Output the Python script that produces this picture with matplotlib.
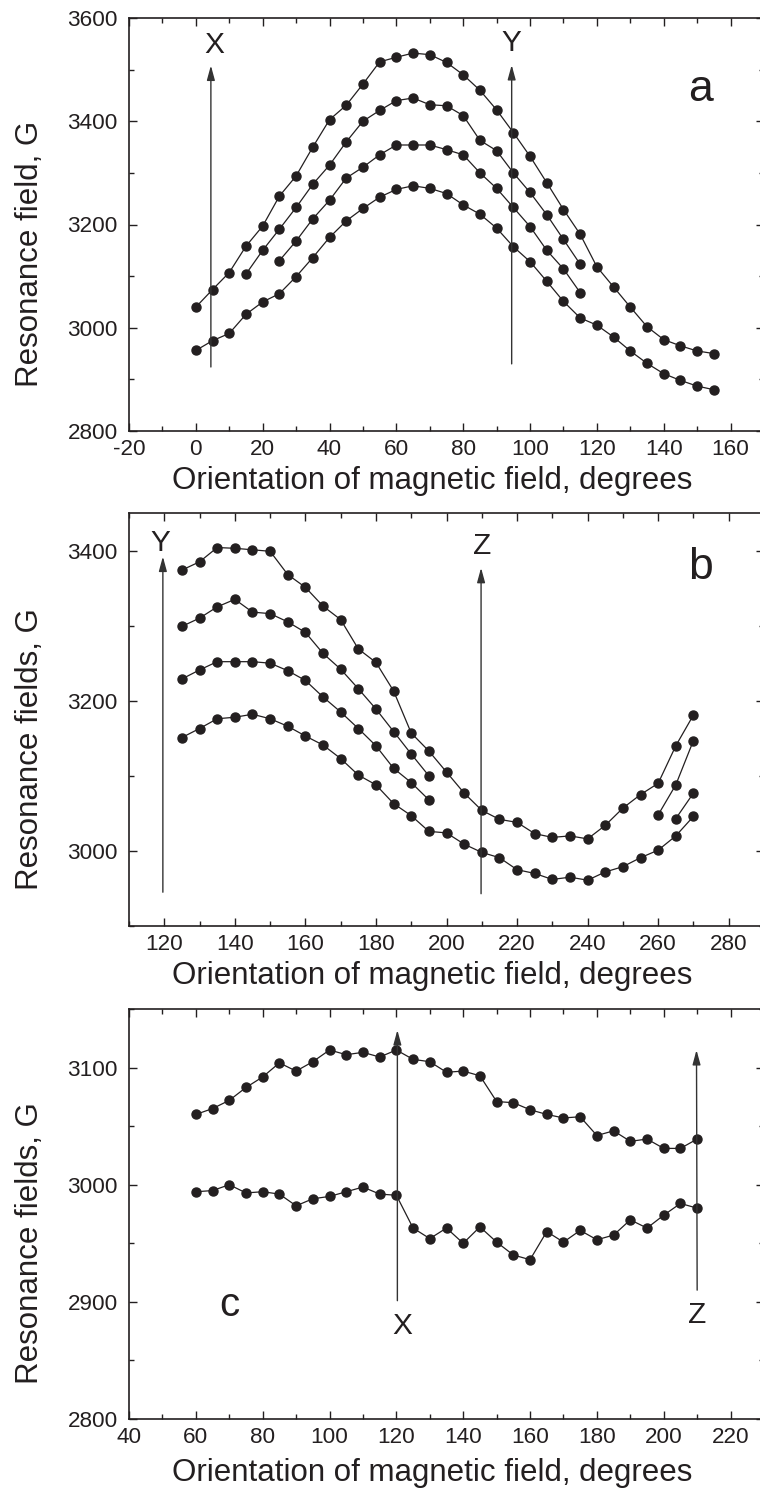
import matplotlib
matplotlib.use('Agg')
import matplotlib.pyplot as plt
from matplotlib.ticker import MultipleLocator

plt.rcParams['font.family'] = ['Liberation Sans', 'DejaVu Sans']
plt.rcParams['axes.unicode_minus'] = False

INK = '#231f20'

# ---- panel a ----
a_ang = [0, 5, 10, 15, 20, 25, 30, 35, 40, 45, 50, 55, 60, 65, 70, 75,
         80, 85, 90, 95, 100, 105, 110, 115, 120, 125, 130, 135, 140, 145, 150, 155]
a_top = [3040, 3074, 3107, 3158, 3197, 3255, 3294, 3350, 3403, 3431, 3472, 3515,
         3524, 3532, 3529, 3514, 3490, 3460, 3422, 3378, 3332, 3281, 3229, 3181,
         3118, 3079, 3040, 3002, 2977, 2965, 2955, 2950]
a_bot = [2956, 2975, 2989, 3026, 3050, 3066, 3099, 3136, 3175, 3207, 3231, 3253,
         3268, 3275, 3270, 3260, 3238, 3220, 3193, 3157, 3128, 3090, 3051, 3019,
         3005, 2982, 2955, 2931, 2911, 2898, 2887, 2880]
a_ang2 = [15, 20, 25, 30, 35, 40, 45, 50, 55, 60, 65, 70, 75, 80, 85, 90, 95,
          100, 105, 110, 115]
a_mid1 = [3104, 3150, 3191, 3233, 3278, 3315, 3360, 3400, 3421, 3440, 3445, 3432,
          3430, 3411, 3363, 3343, 3300, 3262, 3219, 3171, 3123]
a_ang3 = [25, 30, 35, 40, 45, 50, 55, 60, 65, 70, 75, 80, 85, 90, 95, 100, 105,
          110, 115]
a_mid2 = [3130, 3168, 3211, 3247, 3290, 3311, 3335, 3354, 3354, 3354, 3345, 3335,
          3300, 3270, 3233, 3196, 3150, 3114, 3068]

# ---- panel b ----
b_ang = [125, 130, 135, 140, 145, 150, 155, 160, 165, 170, 175, 180, 185, 190, 195,
         200, 205, 210, 215, 220, 225, 230, 235, 240, 245, 250, 255, 260, 265, 270]
b_top = [3374, 3385, 3404, 3403, 3401, 3399, 3368, 3351, 3326, 3308, 3269, 3251,
         3213, 3157, 3133, 3105, 3077, 3054, 3042, 3038, 3023, 3018, 3020, 3016,
         3034, 3057, 3075, 3090, 3140, 3181]
b_bot = [3151, 3163, 3176, 3178, 3182, 3176, 3166, 3153, 3141, 3123, 3101, 3088,
         3063, 3047, 3026, 3024, 3009, 2998, 2991, 2975, 2970, 2962, 2965, 2961,
         2972, 2979, 2991, 3001, 3020, 3046]
b_ang_short = [125, 130, 135, 140, 145, 150, 155, 160, 165, 170, 175, 180, 185, 190, 195]
b_mid1 = [3299, 3310, 3325, 3335, 3318, 3316, 3305, 3291, 3263, 3242, 3216, 3189,
          3159, 3129, 3100]
b_mid2 = [3229, 3241, 3252, 3252, 3252, 3250, 3240, 3227, 3205, 3185, 3163, 3140,
          3110, 3091, 3068]
b_ang5 = [260, 265, 270]
b_tail1 = [3048, 3088, 3147]
b_ang6 = [265, 270]
b_tail2 = [3043, 3077]

# ---- panel c ----
c_ang = [60, 65, 70, 75, 80, 85, 90, 95, 100, 105, 110, 115, 120, 125, 130, 135,
         140, 145, 150, 155, 160, 165, 170, 175, 180, 185, 190, 195, 200, 205, 210]
c_top = [3060, 3065, 3072, 3083, 3092, 3104, 3097, 3105, 3115, 3111, 3113, 3109,
         3115, 3107, 3105, 3096, 3097, 3093, 3071, 3070, 3064, 3060, 3057, 3058,
         3042, 3046, 3037, 3039, 3031, 3031, 3039]
c_bot = [2994, 2995, 3000, 2993, 2994, 2992, 2982, 2988, 2990, 2994, 2998, 2992,
         2991, 2963, 2954, 2963, 2950, 2964, 2951, 2940, 2936, 2960, 2951, 2961,
         2953, 2957, 2970, 2963, 2974, 2984, 2980]

W, H = 760, 1506
fig = plt.figure(figsize=(W / 100, H / 100), dpi=100)


def make_axes(top_px, bot_px):
    # right spine sits just past the picture edge, as in the original
    left, right = 129, 764
    return fig.add_axes([left / W, 1 - bot_px / H, (right - left) / W, (bot_px - top_px) / H])


def style(ax, xlim, ylim, xmaj, ymaj, ylabel, xlab_y):
    ax.set_xlim(*xlim)
    ax.set_ylim(*ylim)
    ax.xaxis.set_major_locator(MultipleLocator(xmaj))
    ax.xaxis.set_minor_locator(MultipleLocator(xmaj / 2))
    ax.yaxis.set_major_locator(MultipleLocator(ymaj))
    ax.yaxis.set_minor_locator(MultipleLocator(ymaj / 2))
    ax.tick_params(which='both', direction='in', top=True, right=True,
                   color=INK, width=1.0, labelcolor=INK, labelsize=16.2)
    ax.tick_params(which='major', length=6)
    ax.tick_params(which='minor', length=3.5)
    ax.tick_params(axis='x', pad=6)
    ax.tick_params(axis='y', pad=8)
    for s in ax.spines.values():
        s.set_linewidth(1.2)
        s.set_color(INK)
    ax.set_xlabel('Orientation of magnetic field, degrees', fontsize=22.5, color=INK)
    ax.set_ylabel(ylabel, fontsize=22.5, color=INK)
    ax.xaxis.set_label_coords(0.477, xlab_y)
    ax.yaxis.set_label_coords(-0.133, 0.4286)


def series(ax, x, y):
    ax.plot(x, y, '-', color=INK, lw=0.9, marker='o', ms=6.5, mfc=INK, mec=INK)


def arrow(ax, x0, y0, x1, y1):
    ax.annotate('', xy=(x1, y1), xytext=(x0, y0),
                arrowprops=dict(arrowstyle='-|>,head_length=0.55,head_width=0.15',
                                lw=1.0, color='#333333', shrinkA=0, shrinkB=0,
                                mutation_scale=16))


# panel a
ax1 = make_axes(18, 431)
for x, y in [(a_ang, a_top), (a_ang2, a_mid1), (a_ang3, a_mid2), (a_ang, a_bot)]:
    series(ax1, x, y)
arrow(ax1, 4.5, 2924, 4.5, 3508)
arrow(ax1, 94.5, 2930, 94.5, 3509)
ax1.text(5.5, 3548, 'X', fontsize=21.5, ha='center', va='center', color=INK)
ax1.text(94.5, 3551, 'Y', fontsize=21.5, ha='center', va='center', color=INK)
ax1.text(151, 3461, 'a', fontsize=32, ha='center', va='center', color=INK)
style(ax1, (-20, 170), (2800, 3600), 20, 200, 'Resonance field, G', -0.085)

# panel b
ax2 = make_axes(513, 926)
for x, y in [(b_ang, b_top), (b_ang_short, b_mid1), (b_ang_short, b_mid2),
             (b_ang, b_bot), (b_ang5, b_tail1), (b_ang6, b_tail2)]:
    series(ax2, x, y)
arrow(ax2, 119.6, 2945, 119.6, 3392)
arrow(ax2, 209.8, 2943, 209.8, 3377)
ax2.text(119, 3410, 'Y', fontsize=21.5, ha='center', va='center', color=INK)
ax2.text(210, 3406, 'Z', fontsize=21.5, ha='center', va='center', color=INK)
ax2.text(272, 3378, 'b', fontsize=32, ha='center', va='center', color=INK)
style(ax2, (110, 290), (2900, 3450), 20, 200, 'Resonance fields, G', -0.085)

# panel c
ax3 = make_axes(1009, 1419)
series(ax3, c_ang, c_top)
series(ax3, c_ang, c_bot)
arrow(ax3, 120.3, 2901, 120.3, 3132)
arrow(ax3, 210, 2910, 209.8, 3115)
ax3.text(121.8, 2879, 'X', fontsize=21.5, ha='center', va='center', color=INK)
ax3.text(210, 2889, 'Z', fontsize=21.5, ha='center', va='center', color=INK)
ax3.text(70, 2897, 'c', fontsize=29, ha='center', va='center', color=INK)
style(ax3, (40, 230), (2800, 3150), 20, 100, 'Resonance fields, G', -0.095)

fig.savefig('out.png', dpi=100)
